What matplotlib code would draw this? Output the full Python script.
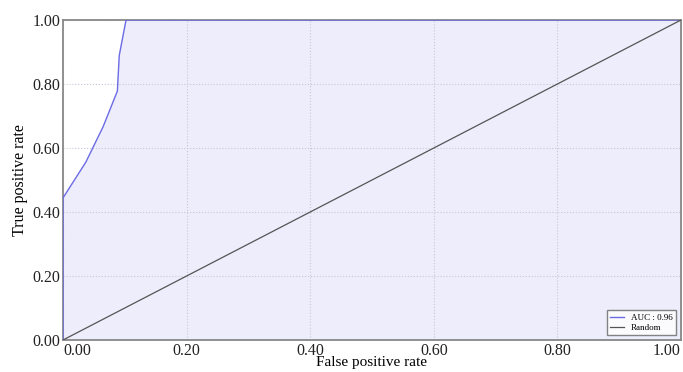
import matplotlib
matplotlib.use("Agg")
import matplotlib.pyplot as plt
import numpy as np

fpr = [0.0, 0.0, 0.037, 0.065, 0.088, 0.091, 0.102, 1.0]
tpr = [0.0, 0.444, 0.556, 0.667, 0.778, 0.889, 1.0, 1.0]
auc_label = "AUC : 0.96"
rand_x = [0.0, 1.0]
rand_y = [0.0, 1.0]
ticks = [0.0, 0.2, 0.4, 0.6, 0.8, 1.0]
tick_labels = ["0.00", "0.20", "0.40", "0.60", "0.80", "1.00"]

plt.rcParams['font.family'] = ['Liberation Serif', 'DejaVu Serif']

fig = plt.figure(figsize=(6.83, 3.72), dpi=100)
ax = fig.add_axes([63/683, 1-340/372, (681-63)/683, 320/372])

ax.fill_between(fpr, tpr, 0, color='#ededfb', zorder=0)
ax.plot(fpr, tpr, color='#6b6be6', lw=1.0, label=auc_label, zorder=3)
ax.plot(rand_x, rand_y, color='#555555', lw=0.9, label='Random', zorder=3)

ax.set_xlim(0, 1)
ax.set_ylim(0, 1)
ax.set_xticks(ticks)
ax.set_yticks(ticks)
ax.set_xticklabels(tick_labels)
ax.set_yticklabels(tick_labels)
ax.tick_params(length=0, labelsize=11.5, labelcolor='#222222', pad=2)
xl = ax.get_xticklabels()
xl[0].set_ha('left')
xl[-1].set_ha('right')
ax.grid(True, color='#c8c8d8', ls=':', lw=0.8)
ax.set_axisbelow(True)
for s in ax.spines.values():
    s.set_color('#888888')
    s.set_linewidth(1.3)

ax.set_xlabel('False positive rate', fontsize=11, labelpad=-2)
ax.set_ylabel('True positive rate', fontsize=11.5, labelpad=3)

leg = ax.legend(loc='lower right', fontsize=6.5, frameon=True, fancybox=False,
                handlelength=1.5, borderpad=0.4, labelspacing=0.2)
leg.get_frame().set_edgecolor('#666666')
leg.get_frame().set_linewidth(1.0)

fig.savefig('out.png', dpi=100)
